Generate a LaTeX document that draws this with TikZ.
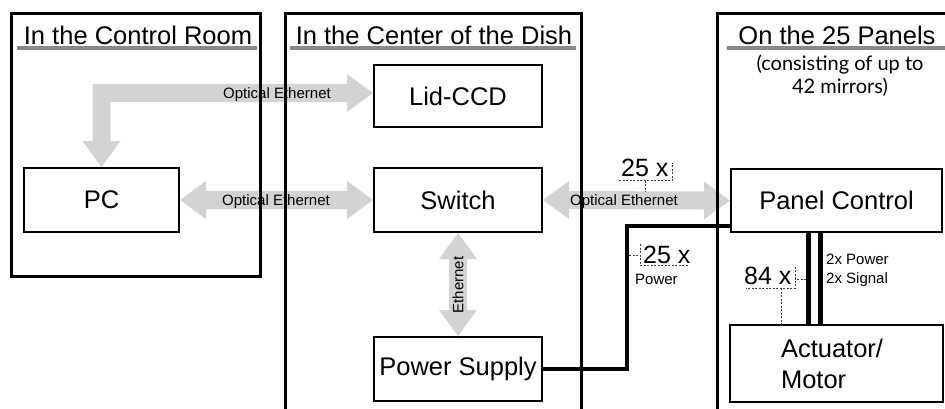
\documentclass[tikz,border=0pt]{standalone}
\usepackage{fontspec}
\setmainfont{Liberation Sans}
\newfontfamily\subfont{Lato}
\usetikzlibrary{calc}
\definecolor{arrowgray}{RGB}{211,211,211}
\definecolor{linegray}{RGB}{138,138,138}
\definecolor{dashgray}{RGB}{60,60,60}
\newcommand{\ahl}{26}
\newcommand{\ahw}{19}
\newcommand{\abw}{9}
\newcommand{\harrow}[2]{\fill[arr] (#1) -- ($(#1)+(\ahl,-\ahw)$) -- ($(#1)+(\ahl,-\abw)$) -- ($(#2)+(-\ahl,-\abw)$) -- ($(#2)+(-\ahl,-\ahw)$) -- (#2) -- ($(#2)+(-\ahl,\ahw)$) -- ($(#2)+(-\ahl,\abw)$) -- ($(#1)+(\ahl,\abw)$) -- ($(#1)+(\ahl,\ahw)$) -- cycle;}
\newcommand{\varrow}[2]{\fill[arr] (#1) -- ($(#1)+(\ahw,\ahl)$) -- ($(#1)+(\abw,\ahl)$) -- ($(#2)+(\abw,-\ahl)$) -- ($(#2)+(\ahw,-\ahl)$) -- (#2) -- ($(#2)+(-\ahw,-\ahl)$) -- ($(#2)+(-\abw,-\ahl)$) -- ($(#1)+(-\abw,\ahl)$) -- ($(#1)+(-\ahw,\ahl)$) -- cycle;}
\tikzset{
  panel/.style={line width=3pt, draw=black, line join=miter},
  box/.style={draw, line width=2pt, fill=white, font=\fontsize{25.5}{31}\selectfont, inner sep=0pt},
  heading/.style={font=\fontsize{25.5}{30}\selectfont, anchor=base, inner sep=0pt},
  underline/.style={draw=linegray, line width=3.5pt},
  small/.style={font=\fontsize{15}{19}\selectfont, text=black, inner sep=0pt},
  count/.style={font=\fontsize{25}{30}\selectfont, anchor=base west, inner sep=0pt},
  bracket/.style={draw=dashgray, line width=0.9pt, dash pattern=on 2pt off 1.5pt},
  pline/.style={line width=4.5pt, draw=black, line join=miter},
  arr/.style={fill=arrowgray},
}
\begin{document}
\begin{tikzpicture}[x=1pt, y=-1pt]
\useasboundingbox (0,0) rectangle (945,408);
\fill[white] (0,0) rectangle (945,408);

% boxes
\node[box, minimum width=168pt, minimum height=62pt] (lid) at (458,96) {Lid-CCD};
\node[box, minimum width=168pt, minimum height=64pt] (sw) at (458,200) {Switch};
\node[box, minimum width=168pt, minimum height=64pt] (ps) at (458,369) {Power Supply};
\node[box, minimum width=155pt, minimum height=64pt] (pc) at (101.5,200) {PC};
\node[box, minimum width=211pt, minimum height=63pt] (pcn) at (836.5,200.5) {Panel Control};
\node[box, minimum width=213pt, minimum height=77pt, text width=111pt, align=left] (act) at (836.5,363.5) {Actuator/\\Motor};

% gray arrows
\coordinate (lt) at ($(lid.west)+(0,-3)$);
\fill[arr] (lt) -- ($(lt)+(-\ahl,-\ahw)$) -- ($(lt)+(-\ahl,-\abw)$) -- ($(pc.north |- lt)+(-\abw,-\abw)$) -- ($(pc.north)+(-\abw,-\ahl)$) -- ($(pc.north)+(-\ahw,-\ahl)$) -- (pc.north) -- ($(pc.north)+(\ahw,-\ahl)$) -- ($(pc.north)+(\abw,-\ahl)$) -- ($(pc.north |- lt)+(\abw,\abw)$) -- ($(lt)+(-\ahl,\abw)$) -- ($(lt)+(-\ahl,\ahw)$) -- cycle;
\harrow{pc.east}{sw.west}
\harrow{sw.east}{pcn.west}
\varrow{sw.south}{ps.north}

% arrow labels
\node[small, anchor=base] (l1) at (277,98) {Optical Ethernet};
\node[small, anchor=base] (l2) at (276,205) {Optical Ethernet};
\node[small, anchor=base] (l3) at (624,205.5) {Optical Ethernet};
\node[small, rotate=90] (l4) at (458,285) {Ethernet};

% black cables
\coordinate (pj) at (627,226);
\draw[pline] (ps.east) -| (pj) -- (pj -| pcn.west);
\draw[pline] ($(pcn.south)+(-28,0)$) -- ($(act.north)+(-28,0)$);
\draw[pline] ($(pcn.south)+(-16,0)$) -- ($(act.north)+(-16,0)$);

% counts
\node[count] (n1) at (621,176.5) {25 x};
\draw[bracket] (619,180.7) -- (672,180.7) -- (672,162.7);
\draw[bracket] (645.7,180.7) -- (645.7,192);
\node[count] (n2) at (643,263) {25 x};
\draw[bracket] (629,255) -- (640,255);
\draw[bracket] (640,244) -- (640,265) -- (689,265);
\node[small, anchor=base west] (pw) at (635,284) {Power};
\node[count] (n3) at (744,284) {84 x};
\draw[bracket] (806,279) -- (795,279);
\draw[bracket] (795,266.7) -- (795,288.3) -- (746,288.3);
\draw[bracket] (781.5,288.3) -- ($(act.north)+(-55,0)$);
\node[small, anchor=north west, align=left] (sig) at (826,254) {2x Power\\2x Signal};

% panels
\draw[panel] (11,13) rectangle (260.5,276.5);
\draw[panel] (285,410) -- (285,13) -- (581.5,13) -- (581.5,410);
\draw[panel] (717.5,410) -- (717.5,13) -- (947,13);

% headings
\node[heading] (h1) at (138,44) {In the Control Room};
\draw[underline] (17,48) -- (257,48);
\node[heading] (h2) at (434,44) {In the Center of the Dish};
\draw[underline] (290,48) -- (576,48);
\node[heading] (h3) at (837,44) {On the 25 Panels};
\draw[underline] (727,48) -- (946,48);
\node[font=\subfont\fontsize{20}{23}\selectfont, align=center, anchor=north, inner sep=0pt] (sub) at (840,55) {(consisting of up to\\42 mirrors)};
\end{tikzpicture}
\end{document}
